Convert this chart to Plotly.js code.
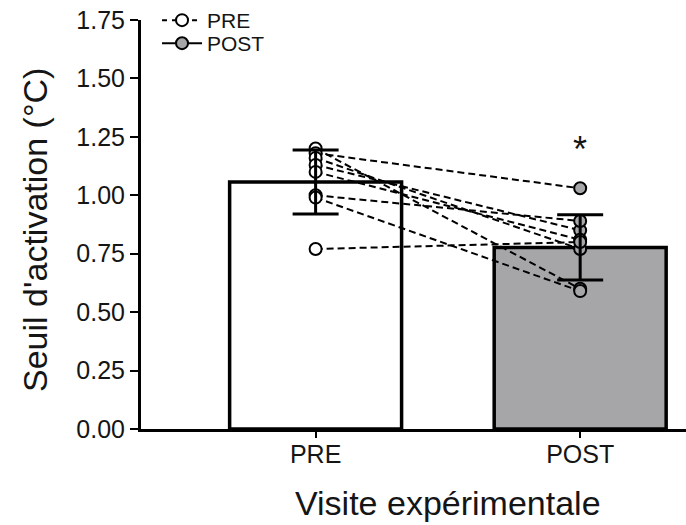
<!DOCTYPE html>
<html>
<head>
<meta charset="utf-8">
<script src="https://cdn.plot.ly/plotly-3.0.1.min.js"></script>
<style>html,body{margin:0;padding:0;background:#fff;}#chart{width:686px;height:525px;}</style>
</head>
<body>
<div id="chart"></div>
<script>
// ---- data ----
const categories = ['PRE', 'POST'];
const barMeans = [1.057, 0.777];
const barSD = [0.137, 0.14];
const preValues  = [1.20, 1.18, 1.16, 1.13, 1.10, 1.00, 0.99, 0.77];
const postValues = [0.60, 1.03, 0.77, 0.85, 0.81, 0.89, 0.59, 0.80];
const legendLabels = ['PRE', 'POST'];
const sigLabel = '*';
const xTitle = 'Visite expérimentale';
const yTitle = "Seuil d'activation (°C)";
const yTickVals = [0, 0.25, 0.5, 0.75, 1.0, 1.25, 1.5, 1.75];

const FONT = 'Liberation Sans, Arial, Helvetica, sans-serif';
const TXT = '#151515';
const GREY = '#a6a6a9';
const traces = [];

traces.push({
  type: 'bar', x: categories, y: barMeans, width: 0.65,
  marker: {color: ['#ffffff', GREY], line: {color: '#000', width: 3.5}},
  showlegend: false, hoverinfo: 'skip'
});

// paired subject lines
for (let i = 0; i < preValues.length; i++) {
  traces.push({
    type: 'scatter', mode: 'lines', x: categories, y: [preValues[i], postValues[i]],
    line: {color: '#000', width: 2, dash: '7px,4px'}, showlegend: false, hoverinfo: 'skip'
  });
}

traces.push({
  type: 'scatter', mode: 'markers', x: preValues.map(() => categories[0]), y: preValues,
  marker: {symbol: 'circle', size: 12, color: '#ffffff', line: {color: '#000', width: 2}},
  showlegend: false
});
traces.push({
  type: 'scatter', mode: 'markers', x: postValues.map(() => categories[1]), y: postValues,
  marker: {symbol: 'circle', size: 12, color: GREY, line: {color: '#000', width: 2}},
  showlegend: false
});

// error bars drawn on top of points
traces.push({
  type: 'scatter', mode: 'markers', x: categories, y: barMeans,
  marker: {size: 1, opacity: 0},
  error_y: {type: 'data', array: barSD, visible: true, color: '#000', thickness: 3, width: 23},
  showlegend: false, hoverinfo: 'skip'
});

// legend entries
traces.push({
  type: 'scatter', mode: 'lines+markers', x: [null], y: [null], name: legendLabels[0],
  line: {color: '#000', width: 2, dash: '5px,5px'},
  marker: {symbol: 'circle', size: 12, color: '#fff', line: {color: '#000', width: 2}},
  legend: 'legend'
});
traces.push({
  type: 'scatter', mode: 'lines+markers', x: [null], y: [null], name: legendLabels[1],
  line: {color: '#000', width: 2},
  marker: {symbol: 'circle', size: 12, color: GREY, line: {color: '#000', width: 2}},
  legend: 'legend2'
});

const legendFont = {size: 21, family: FONT, color: TXT};
const layout = {
  width: 686, height: 525,
  margin: {l: 141, r: 0, t: 20, b: 96},
  paper_bgcolor: '#fff', plot_bgcolor: '#fff',
  font: {family: FONT, color: TXT, size: 25},
  showlegend: true,
  legend: {x: 0.0294, y: 0.9988, xanchor: 'left', yanchor: 'middle', bgcolor: 'rgba(0,0,0,0)',
           itemwidth: 40, font: legendFont},
  legend2: {x: 0.0294, y: 0.9425, xanchor: 'left', yanchor: 'middle', bgcolor: 'rgba(0,0,0,0)',
           itemwidth: 40, font: legendFont},
  xaxis: {
    type: 'category', range: [-0.66, 1.40],
    showline: true, linecolor: '#000', linewidth: 3,
    ticks: 'outside', ticklen: 6, tickwidth: 2, tickcolor: '#000',
    ticklabelstandoff: -5,
    tickfont: {size: 25, family: FONT, color: TXT},
    showgrid: false, zeroline: false, fixedrange: true
  },
  yaxis: {
    range: [0, 1.75], tickvals: yTickVals, tickformat: '.2f',
    showline: true, linecolor: '#000', linewidth: 3,
    ticks: 'outside', ticklen: 8, tickwidth: 2, tickcolor: '#000',
    tickfont: {size: 25, family: FONT, color: TXT},
    showgrid: false, zeroline: false, fixedrange: true
  },
  annotations: [
    {x: categories[1], y: 1.195, xref: 'x', yref: 'y', text: sigLabel, showarrow: false,
     font: {size: 36, family: FONT, color: TXT}},
    {x: 0.5642, y: -0.181, xref: 'paper', yref: 'paper', text: xTitle, showarrow: false,
     xanchor: 'center', yanchor: 'middle', font: {size: 34, family: FONT, color: TXT}},
    {x: -0.1945, y: 0.4866, xref: 'paper', yref: 'paper', text: yTitle, showarrow: false,
     textangle: -90, xanchor: 'center', yanchor: 'middle', font: {size: 34, family: FONT, color: TXT}}
  ]
};

Plotly.newPlot('chart', traces, layout, {displayModeBar: false, staticPlot: true});
</script>
</body>
</html>
